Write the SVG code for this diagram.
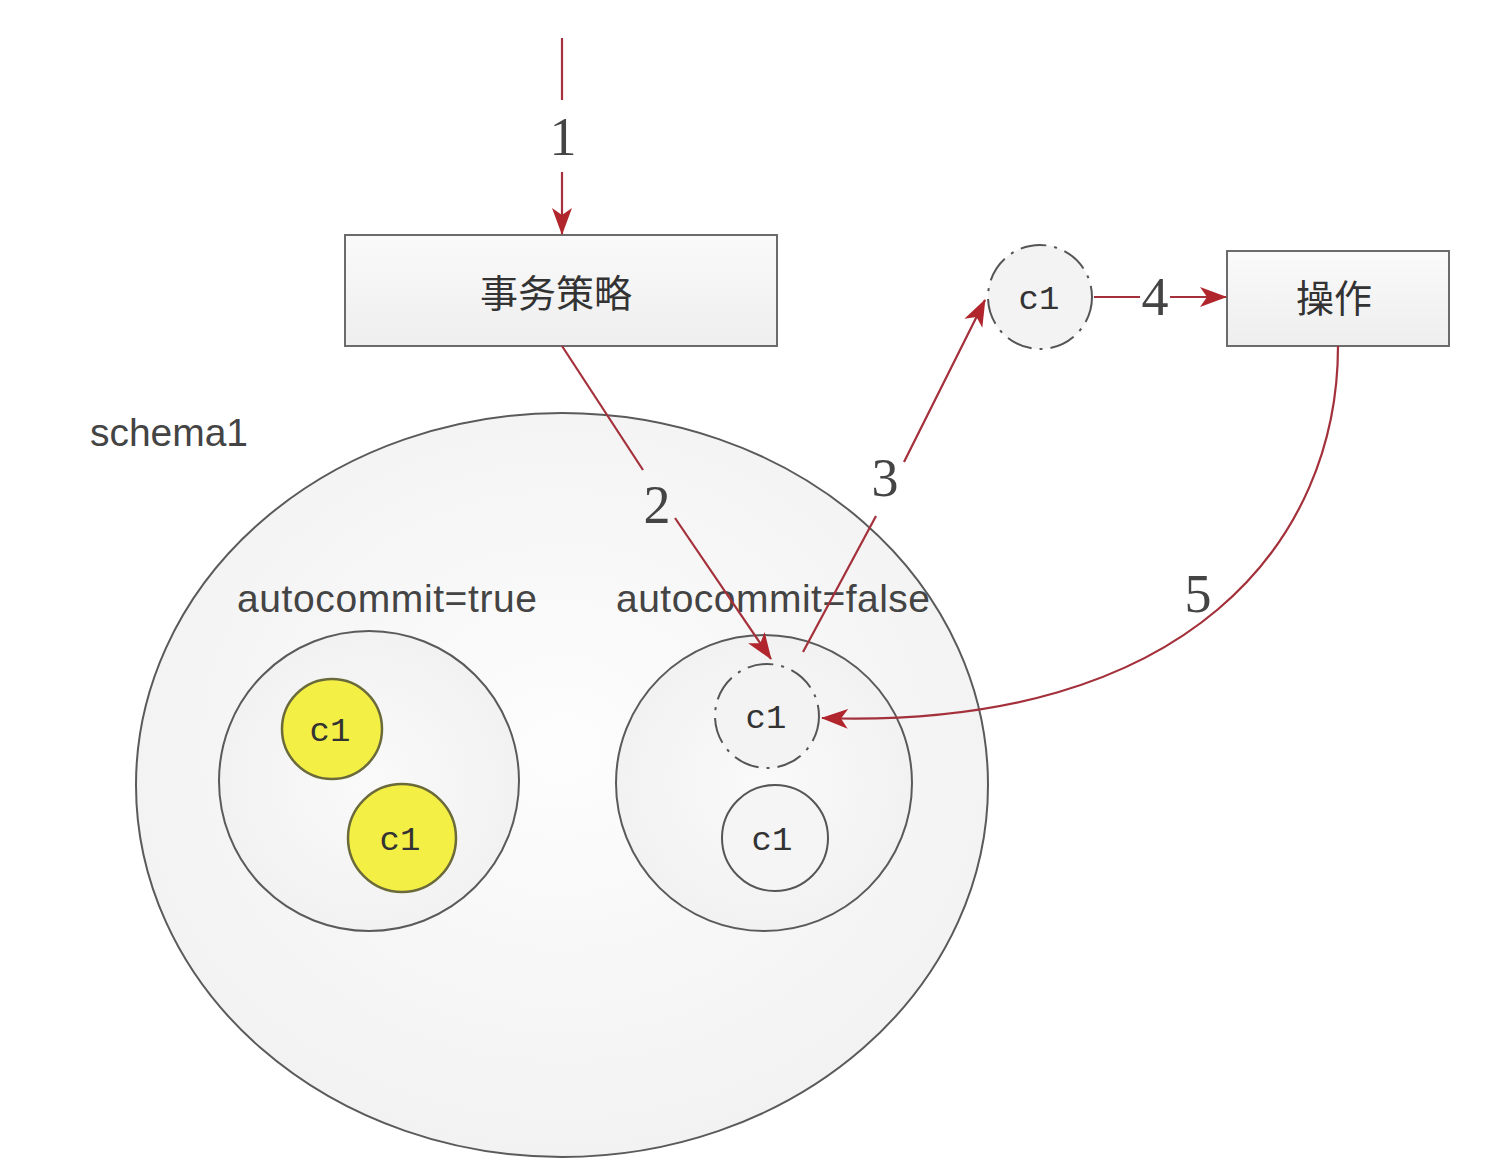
<svg xmlns="http://www.w3.org/2000/svg" width="1488" height="1174" viewBox="0 0 1488 1174">
<defs>
<linearGradient id="gBox" x1="0" y1="0" x2="0" y2="1"><stop offset="0" stop-color="#fafafa"/><stop offset="1" stop-color="#eeeeee"/></linearGradient>
<radialGradient id="gEll" cx="0.5" cy="0.45" r="0.6"><stop offset="0" stop-color="#fdfdfd"/><stop offset="1" stop-color="#f1f1f1"/></radialGradient>
<radialGradient id="gIn" cx="0.5" cy="0.5" r="0.6"><stop offset="0" stop-color="#fafafa"/><stop offset="1" stop-color="#f0f0f0"/></radialGradient>
<marker id="arr" markerUnits="userSpaceOnUse" markerWidth="28" markerHeight="22" viewBox="0 0 28 22" refX="26" refY="11" orient="auto"><path d="M0,1 L27,11 L0,21 L7,11 Z" fill="#b0262c"/></marker>
<style>
.box{fill:url(#gBox);stroke:#6b6b6b;stroke-width:2}
.ring{fill:url(#gIn);stroke:#5a5a5a;stroke-width:2}
.yel{fill:#f4ef45;stroke:#6a6a3a;stroke-width:2.5}
.dash{fill:#f3f3f3;stroke:#555;stroke-width:2;stroke-dasharray:26 8 3 8}
.sol{fill:#f5f5f5;stroke:#555;stroke-width:2}
.cn{fill:none;stroke:#a3303a;stroke-width:2.2}
.num{font-family:"Liberation Serif",serif;font-size:54px;fill:#444;text-anchor:middle}
.c1{font-family:"Liberation Mono",monospace;font-size:34px;fill:#333;text-anchor:middle}
.zh{font-family:"Noto Sans CJK SC",sans-serif;font-size:38px;fill:#333;text-anchor:middle}
.lab{font-family:"Liberation Sans",sans-serif;font-size:39px;fill:#444}
</style>
</defs>
<rect width="1488" height="1174" fill="#ffffff"/>
<g id="schema1">
<ellipse cx="562" cy="785" rx="426" ry="372" fill="url(#gEll)" stroke="#5a5a5a" stroke-width="2"/>
<text class="lab" x="90" y="446" textLength="158">schema1</text>
</g>
<g id="autocommit-true">
<circle class="ring" cx="369" cy="781" r="150"/>
<text class="lab" x="237" y="612" textLength="300">autocommit=true</text>
</g>
<g id="autocommit-false">
<circle class="ring" cx="764" cy="783" r="148"/>
<text class="lab" x="616" y="612" textLength="314">autocommit=false</text>
</g>
<g id="c1-yellow-1"><circle class="yel" cx="332" cy="729" r="50"/><text class="c1" x="330" y="741">c1</text></g>
<g id="c1-yellow-2"><circle class="yel" cx="402" cy="838" r="54"/><text class="c1" x="400" y="850">c1</text></g>
<g id="c1-dashed-inner"><circle class="dash" cx="767" cy="716" r="52"/><text class="c1" x="766" y="728">c1</text></g>
<g id="c1-solid"><circle class="sol" cx="775" cy="838" r="53"/><text class="c1" x="772" y="850">c1</text></g>
<g id="c1-dashed-top"><circle class="dash" cx="1040" cy="297" r="52"/><text class="c1" x="1039" y="309">c1</text></g>
<g id="strategy"><rect class="box" x="345" y="235" width="432" height="111"/><text class="zh" x="556" y="307">事务策略</text></g>
<g id="operation"><rect class="box" x="1227" y="251" width="222" height="95"/><text class="zh" x="1334" y="312">操作</text></g>
<g id="connectors">
<path class="cn" d="M562,38 L562,100"/>
<path class="cn" d="M562,172 L562,234" marker-end="url(#arr)"/>
<text class="num" x="563" y="155">1</text>
<path class="cn" d="M562,346 L643,470"/>
<path class="cn" d="M675,518 L771,659" marker-end="url(#arr)"/>
<text class="num" x="657" y="523">2</text>
<path class="cn" d="M803,652 L876,516"/>
<path class="cn" d="M904,462 L985,300" marker-end="url(#arr)"/>
<text class="num" x="885" y="496">3</text>
<path class="cn" d="M1094,297 L1140,297"/>
<path class="cn" d="M1170,297 L1226,297" marker-end="url(#arr)"/>
<text class="num" x="1155" y="315">4</text>
<path class="cn" d="M1338,346 C1338,540 1190,730 822,718" marker-end="url(#arr)"/>
<text class="num" x="1198" y="612">5</text>
</g>
</svg>
